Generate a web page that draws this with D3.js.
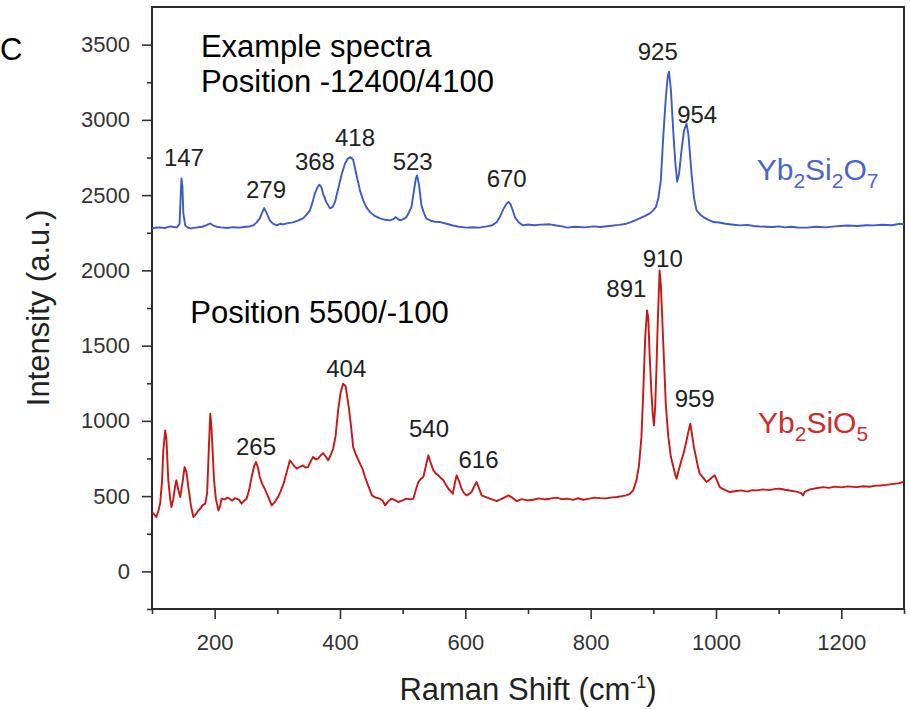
<!DOCTYPE html>
<html>
<head>
<meta charset="utf-8">
<script src="https://cdn.jsdelivr.net/npm/d3@7"></script>
<style>
  body { margin: 0; background: #fff; }
  svg text { font-family: "Liberation Sans", Arial, sans-serif; }
</style>
</head>
<body>
<svg id="chart" width="910" height="710"></svg>
<script>
// Spectra: [Raman shift (cm-1), intensity (a.u.)]
const yb2si2o7 = [
  [100,2279],[106,2283],[113,2286],[120,2281],[129,2292],[135,2288],[140,2286],[144,2310],
  [146,2520],[147,2611],[148.5,2560],[150,2380],[153,2299],[157,2285],[161,2279],[170,2284],
  [180,2290],[187,2300],[193,2312],[198,2298],[203,2290],[210,2286],[220,2282],[229,2287],
  [240,2284],[250,2290],[256,2292],[262,2300],[267,2319],[272,2345],[276,2385],[279,2414],
  [283,2380],[288,2332],[293,2310],[299,2299],[305,2310],[309,2306],[317,2314],[325,2319],
  [333,2330],[341,2346],[347,2372],[352,2399],[356,2450],[360,2512],[364,2552],[367,2569],
  [370,2555],[373,2510],[378,2455],[384,2412],[388,2420],[392,2454],[397,2540],[403,2644],
  [408,2710],[413,2745],[417,2752],[421,2735],[427,2620],[432,2530],[437,2465],[442,2420],
  [448,2387],[456,2360],[464,2345],[472,2336],[480,2332],[485,2340],[489,2354],[492,2342],
  [496,2332],[501,2340],[506,2354],[510,2385],[514,2420],[518,2530],[521,2610],[523,2631],
  [526,2570],[530,2432],[534,2380],[538,2343],[545,2330],[552,2322],[560,2321],[570,2310],
  [580,2298],[590,2290],[602,2284],[612,2287],[622,2284],[634,2292],[643,2300],[650,2320],
  [655,2354],[661,2410],[666,2445],[669,2454],[672,2440],[676,2395],[679,2354],[685,2320],
  [692,2299],[700,2305],[710,2300],[720,2304],[735,2306],[745,2298],[755,2292],[762,2284],
  [775,2290],[790,2286],[805,2292],[815,2288],[830,2295],[845,2302],[857,2310],[865,2322],
  [872,2334],[879,2348],[887,2362],[895,2380],[900,2400],[904,2420],[908,2480],[912,2600],
  [916,2900],[920,3150],[923,3290],[925,3320],[928,3200],[932,2910],[935,2720],[938,2590],
  [941,2640],[945,2797],[949,2930],[953,2975],[956,2900],[961,2642],[965,2480],[969,2399],
  [975,2370],[980,2354],[988,2336],[996,2321],[1005,2318],[1015,2310],[1025,2305],[1038,2299],
  [1050,2302],[1060,2295],[1070,2292],[1080,2290],[1091,2288],[1100,2292],[1110,2286],[1120,2290],
  [1130,2285],[1145,2284],[1160,2290],[1175,2286],[1190,2292],[1198,2295],[1210,2298],[1225,2295],
  [1240,2300],[1251,2299],[1265,2303],[1280,2300],[1294,2310],[1300,2306]
];

const yb2sio5 = [
  [100,394],[104,375],[107,361],[110,400],[113,451],[116,600],[118,800],[121,937],[123,880],
  [126,605],[129,480],[131,427],[134,480],[137,570],[139,605],[142,540],[145,494],[149,600],
  [152,693],[155,660],[158,560],[162,440],[166,361],[170,380],[174,405],[177,416],[181,440],
  [185,450],[188,520],[191,850],[193,1048],[195,950],[199,605],[202,480],[206,405],[209,440],
  [211,483],[216,478],[220,490],[224,483],[228,470],[232,486],[235,483],[239,475],[243,450],
  [247,470],[251,483],[255,540],[259,627],[263,700],[266,726],[269,690],[272,627],[276,580],
  [280,549],[285,500],[291,439],[296,460],[301,494],[305,530],[310,583],[315,660],[320,738],
  [325,710],[331,682],[336,695],[341,704],[345,690],[349,693],[353,730],[357,760],[361,745],
  [365,749],[369,770],[373,786],[377,765],[381,738],[385,770],[389,815],[393,900],[397,1070],
  [401,1190],[405,1247],[409,1230],[414,1092],[418,950],[421,826],[426,770],[432,716],[436,680],
  [440,627],[445,570],[451,505],[457,490],[464,483],[468,470],[472,439],[477,465],[482,483],
  [487,475],[493,461],[499,470],[506,483],[512,478],[517,483],[521,540],[525,594],[529,615],
  [533,627],[537,700],[541,771],[544,730],[549,671],[553,650],[557,638],[561,620],[565,605],
  [569,575],[573,549],[577,530],[580,516],[583,580],[586,638],[590,600],[594,549],[598,520],
  [602,505],[606,515],[610,527],[614,565],[618,594],[622,550],[626,505],[632,495],[639,483],
  [645,475],[650,467],[656,478],[662,490],[669,505],[675,490],[682,467],[690,480],[699,472],
  [708,476],[717,485],[726,478],[735,483],[745,490],[754,480],[762,483],[772,475],[780,486],
  [788,476],[796,482],[806,490],[815,487],[825,485],[835,492],[842,494],[850,500],[857,505],
  [863,516],[868,540],[873,605],[877,700],[881,892],[884,1200],[887,1550],[890,1734],[892,1680],
  [894,1450],[897,1182],[899,1050],[901,970],[903,1100],[905,1350],[907,1650],[910,2000],[912,1900],
  [914,1700],[917,1402],[920,1100],[924,892],[928,760],[932,693],[935,640],[937,616],[941,680],
  [945,740],[948,782],[952,850],[956,930],[959,981],[962,900],[965,820],[968,759],[971,700],
  [974,649],[978,630],[981,615],[985,594],[990,610],[994,625],[998,638],[1002,600],[1006,560],
  [1010,550],[1015,540],[1022,527],[1030,532],[1040,538],[1050,530],[1058,540],[1065,538],[1075,545],
  [1085,540],[1095,548],[1102,549],[1110,542],[1120,536],[1130,528],[1136,520],[1139,505],[1142,530],
  [1150,545],[1160,552],[1171,560],[1180,555],[1190,563],[1200,558],[1210,565],[1224,560],[1235,566],
  [1245,562],[1255,570],[1262,571],[1272,575],[1280,580],[1290,585],[1299,594]
];

// Peak labels: text, anchor in data units [shift, intensity] (label centre / baseline)
const peakLabels = ["147","279","368","418","523","670","925","954","265","404","540","616","891","910","959"];
const peakAnchors = [
  [151,2691],[282,2478],[360,2664],[424,2824],[516,2664],[666,2551],[907,3395],[970,2980],
  [266,771],[410,1289],[542,890],[621,684],[857,1821],[915,2020],[966,1090]
];

// Free text notes, anchored at left / baseline in data units
const notes = ["Example spectra", "Position -12400/4100", "Position 5500/-100"];
const noteAnchors = [[178,3415],[178,3183],[161,1648]];

const xTicks = [200, 400, 600, 800, 1000, 1200];
const xMinorTicks = [100, 300, 500, 700, 900, 1100, 1300];
const yTicks = [0, 500, 1000, 1500, 2000, 2500, 3000, 3500];
const yMinorTicks = [-250, 250, 750, 1250, 1750, 2250, 2750, 3250];

const svg = d3.select("#chart");
const plotLeft = 152, plotRight = 904, plotTop = 7, plotBottom = 609;

const x = d3.scaleLinear().domain([100, 1300]).range([plotLeft, plotRight]);
const y = d3.scaleLinear().domain([-250, 3750]).range([plotBottom, plotTop]);

const axisColor = "#333";
const tickFont = "22px";
const fmt = d3.format("d");

// Axes (major + minor ticks)
svg.append("g").attr("transform", `translate(0,${plotBottom})`)
    .call(d3.axisBottom(x).tickValues(xTicks).tickFormat(fmt).tickSize(10).tickPadding(15));
svg.append("g").attr("transform", `translate(0,${plotBottom})`)
    .call(d3.axisBottom(x).tickValues(xMinorTicks).tickSize(5).tickFormat(""));
svg.append("g").attr("transform", `translate(${plotLeft},0)`)
    .call(d3.axisLeft(y).tickValues(yTicks).tickFormat(fmt).tickSize(10).tickPadding(12));
svg.append("g").attr("transform", `translate(${plotLeft},0)`)
    .call(d3.axisLeft(y).tickValues(yMinorTicks).tickSize(5).tickFormat(""));

svg.selectAll(".domain").remove();
svg.selectAll(".tick line").attr("stroke", axisColor).attr("stroke-width", 1.6);
svg.selectAll(".tick text")
    .attr("fill", axisColor)
    .style("font-size", tickFont)
    .style("font-family", '"Liberation Sans", Arial, sans-serif');

// Frame
svg.append("rect")
    .attr("x", plotLeft).attr("y", plotTop)
    .attr("width", plotRight - plotLeft).attr("height", plotBottom - plotTop)
    .attr("fill", "none").attr("stroke", "#2a2a2a").attr("stroke-width", 2);

// Spectra
const line = d3.line().x(d => x(d[0])).y(d => y(d[1]));

svg.append("path").datum(yb2si2o7)
    .attr("d", line).attr("fill", "none")
    .attr("stroke", "#3c5ad0").attr("stroke-width", 1.9).attr("stroke-linejoin", "round");

svg.append("path").datum(yb2sio5)
    .attr("d", line).attr("fill", "none")
    .attr("stroke", "#cc1515").attr("stroke-width", 1.9).attr("stroke-linejoin", "round");

// Peak positions
svg.append("g").selectAll("text")
    .data(peakLabels)
    .join("text")
    .attr("x", (d, i) => x(peakAnchors[i][0]))
    .attr("y", (d, i) => y(peakAnchors[i][1]))
    .attr("text-anchor", "middle")
    .attr("fill", "#222")
    .style("font-size", "24px")
    .text(d => d);

// Notes
svg.append("g").selectAll("text")
    .data(notes)
    .join("text")
    .attr("x", (d, i) => x(noteAnchors[i][0]))
    .attr("y", (d, i) => y(noteAnchors[i][1]))
    .attr("fill", "#000")
    .style("font-size", "31px")
    .text(d => d);

// Compound names with subscripts
function formula(parts, anchor, color) {
    const t = svg.append("text")
        .attr("x", x(anchor[0])).attr("y", y(anchor[1]))
        .attr("fill", color).style("font-size", "30px");
    let down = false;
    parts.forEach(([s, sub]) => {
        const shift = sub && !down ? 8 : (!sub && down ? -8 : 0);
        down = !!sub;
        t.append("tspan")
            .attr("dy", shift)
            .style("font-size", sub ? "21px" : "30px")
            .text(s);
    });
}
formula([["Yb"],["2",1],["Si"],["2",1],["O"],["7",1]], [1065, 2598], "#4a64d2");
formula([["Yb"],["2",1],["SiO"],["5",1]], [1067, 917], "#d22a2a");

// Axis titles
const xTitle = svg.append("text")
    .attr("x", (plotLeft + plotRight) / 2).attr("y", 700)
    .attr("text-anchor", "middle").attr("fill", "#222")
    .style("font-size", "31px");
xTitle.append("tspan").text("Raman Shift (cm");
xTitle.append("tspan").attr("dy", -12).style("font-size", "18px").text("-1");
xTitle.append("tspan").attr("dy", 12).text(")");

svg.append("text")
    .attr("transform", `translate(49,${(plotTop + plotBottom) / 2}) rotate(-90)`)
    .attr("text-anchor", "middle").attr("fill", "#222")
    .style("font-size", "31px")
    .text("Intensity (a.u.)");

// Panel letter
svg.append("text")
    .attr("x", 0).attr("y", 60)
    .attr("fill", "#000").style("font-size", "31px")
    .text("C");
</script>
</body>
</html>
